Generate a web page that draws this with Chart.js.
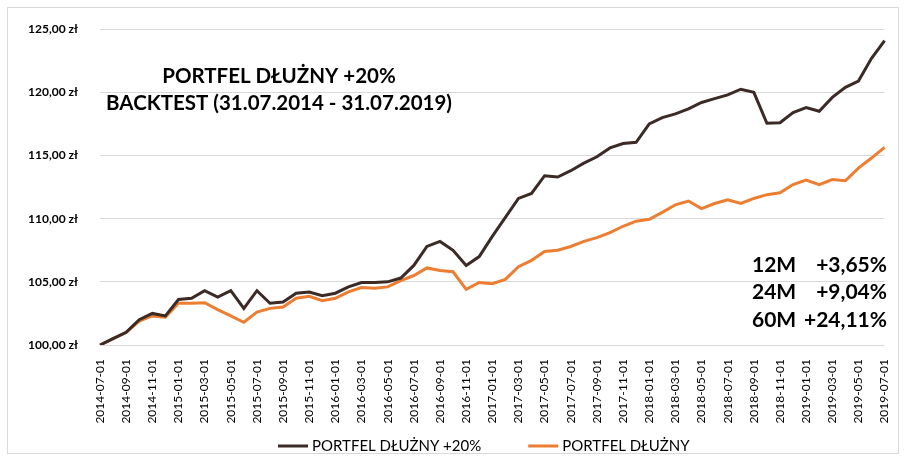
<!DOCTYPE html>
<html>
<head>
<meta charset="utf-8">
<script src="https://cdn.jsdelivr.net/npm/chart.js@4"></script>
<style>
  html, body { margin: 0; padding: 0; background: #fff; }
  #wrap { position: relative; width: 905px; height: 461px; }
  #frame { position: absolute; left: 7px; top: 7px; width: 890px; height: 445px; border: 1px solid #d9d9d9; pointer-events: none; }
</style>
</head>
<body>
<div id="wrap">
  <canvas id="backtestChart" width="905" height="461"></canvas>
  <div id="frame"></div>
</div>
<script>
const months = [
  "2014-07-01","2014-08-01","2014-09-01","2014-10-01","2014-11-01","2014-12-01",
  "2015-01-01","2015-02-01","2015-03-01","2015-04-01","2015-05-01","2015-06-01",
  "2015-07-01","2015-08-01","2015-09-01","2015-10-01","2015-11-01","2015-12-01",
  "2016-01-01","2016-02-01","2016-03-01","2016-04-01","2016-05-01","2016-06-01",
  "2016-07-01","2016-08-01","2016-09-01","2016-10-01","2016-11-01","2016-12-01",
  "2017-01-01","2017-02-01","2017-03-01","2017-04-01","2017-05-01","2017-06-01",
  "2017-07-01","2017-08-01","2017-09-01","2017-10-01","2017-11-01","2017-12-01",
  "2018-01-01","2018-02-01","2018-03-01","2018-04-01","2018-05-01","2018-06-01",
  "2018-07-01","2018-08-01","2018-09-01","2018-10-01","2018-11-01","2018-12-01",
  "2019-01-01","2019-02-01","2019-03-01","2019-04-01","2019-05-01","2019-06-01",
  "2019-07-01"
];

// PORTFEL DŁUŻNY +20%
const plus20 = [
  100.0, 100.5, 101.0, 102.0, 102.5, 102.3,
  103.6, 103.7, 104.3, 103.8, 104.3, 102.9,
  104.3, 103.3, 103.4, 104.1, 104.2, 103.9,
  104.1, 104.6, 104.95, 104.95, 105.0, 105.3,
  106.3, 107.8, 108.2, 107.5, 106.3, 107.0,
  108.6, 110.1, 111.6, 112.0, 113.4, 113.3,
  113.8, 114.4, 114.9, 115.6, 115.95, 116.05,
  117.5, 118.0, 118.3, 118.7, 119.2, 119.5,
  119.8, 120.25, 120.0, 117.55, 117.6, 118.4,
  118.8, 118.5, 119.6, 120.4, 120.9, 122.7,
  124.1
];

// PORTFEL DŁUŻNY
const base = [
  100.0, 100.5, 101.0, 101.9, 102.3, 102.2,
  103.3, 103.3, 103.35, 102.8, 102.3, 101.8,
  102.6, 102.9, 103.0, 103.7, 103.85, 103.5,
  103.7, 104.2, 104.55, 104.5, 104.6, 105.1,
  105.5, 106.1, 105.9, 105.8, 104.4, 104.95,
  104.85, 105.2, 106.2, 106.7, 107.4, 107.5,
  107.8, 108.2, 108.5, 108.9, 109.4, 109.8,
  109.95, 110.5, 111.1, 111.4, 110.8, 111.2,
  111.5, 111.2, 111.6, 111.9, 112.05, 112.7,
  113.05, 112.7, 113.1, 113.0, 114.0, 114.8,
  115.65
];

const seriesNames = ["PORTFEL DŁUŻNY +20%", "PORTFEL DŁUŻNY"];
const titleLines = ["PORTFEL DŁUŻNY +20%", "BACKTEST (31.07.2014 - 31.07.2019)"];
const periodLabels = ["12M", "24M", "60M"];
const periodReturns = ["+3,65%", "+9,04%", "+24,11%"];

const FONT = "Lato, 'Open Sans', sans-serif";

// title, return summary and the legend row
const textOverlay = {
  id: "textOverlay",
  afterDraw(chart) {
    const ctx = chart.ctx;
    ctx.save();
    ctx.fillStyle = "#000";
    ctx.textBaseline = "middle";
    ctx.font = "bold 20.5px " + FONT;
    ctx.textAlign = "center";
    ctx.fillText(titleLines[0], 279, 76);
    ctx.fillText(titleLines[1], 279, 103);

    ctx.font = "bold 21px " + FONT;
    periodLabels.forEach((lbl, i) => {
      const y = 265 + i * 27.5;
      ctx.textAlign = "left";
      ctx.fillText(lbl, 752, y);
      ctx.textAlign = "right";
      ctx.fillText(periodReturns[i], 887, y);
    });

    // legend: line sample + dataset label
    ctx.font = "15px " + FONT;
    ctx.textAlign = "left";
    let x = 278;
    chart.data.datasets.forEach((ds) => {
      ctx.strokeStyle = ds.borderColor;
      ctx.lineWidth = 3;
      ctx.beginPath();
      ctx.moveTo(x, 446);
      ctx.lineTo(x + 30, 446);
      ctx.stroke();
      ctx.fillText(ds.label, x + 34, 446);
      x += 34 + ctx.measureText(ds.label).width + 47;
    });
    ctx.restore();
  }
};

const ctx = document.getElementById("backtestChart").getContext("2d");

new Chart(ctx, {
  type: "line",
  data: {
    labels: months,
    datasets: [
      {
        label: seriesNames[0],
        data: plus20,
        borderColor: "#3b2a26",
        backgroundColor: "#3b2a26",
        borderWidth: 3,
        pointRadius: 0,
        tension: 0,
        fill: false
      },
      {
        label: seriesNames[1],
        data: base,
        borderColor: "#ed7d31",
        backgroundColor: "#ed7d31",
        borderWidth: 3,
        pointRadius: 0,
        tension: 0,
        fill: false
      }
    ]
  },
  options: {
    responsive: false,
    animation: false,
    layout: {
      padding: { top: 28, right: 10, left: 0, bottom: 0 }
    },
    plugins: {
      tooltip: { enabled: false },
      legend: { display: false }
    },
    scales: {
      x: {
        offset: false,
        grid: { display: false },
        border: { display: false },
        ticks: {
          autoSkip: false,
          maxRotation: 90,
          minRotation: 90,
          padding: 6,
          color: "#000",
          font: { family: FONT, size: 12 },
          callback: (v, i) => (i % 2 === 0 ? months[i] : "")
        },
        afterFit: (scale) => { scale.height = 116; }
      },
      y: {
        min: 100,
        max: 125,
        grid: { color: "#d9d9d9", lineWidth: 1, drawTicks: false },
        border: { display: false },
        ticks: {
          stepSize: 5,
          padding: 22,
          color: "#000",
          font: { family: FONT, size: 12, weight: "bold" },
          callback: (v) => v.toFixed(2).replace(".", ",") + " zł"
        },
        afterFit: (scale) => { scale.width = 100; }
      }
    }
  },
  plugins: [textOverlay]
});
</script>
</body>
</html>
